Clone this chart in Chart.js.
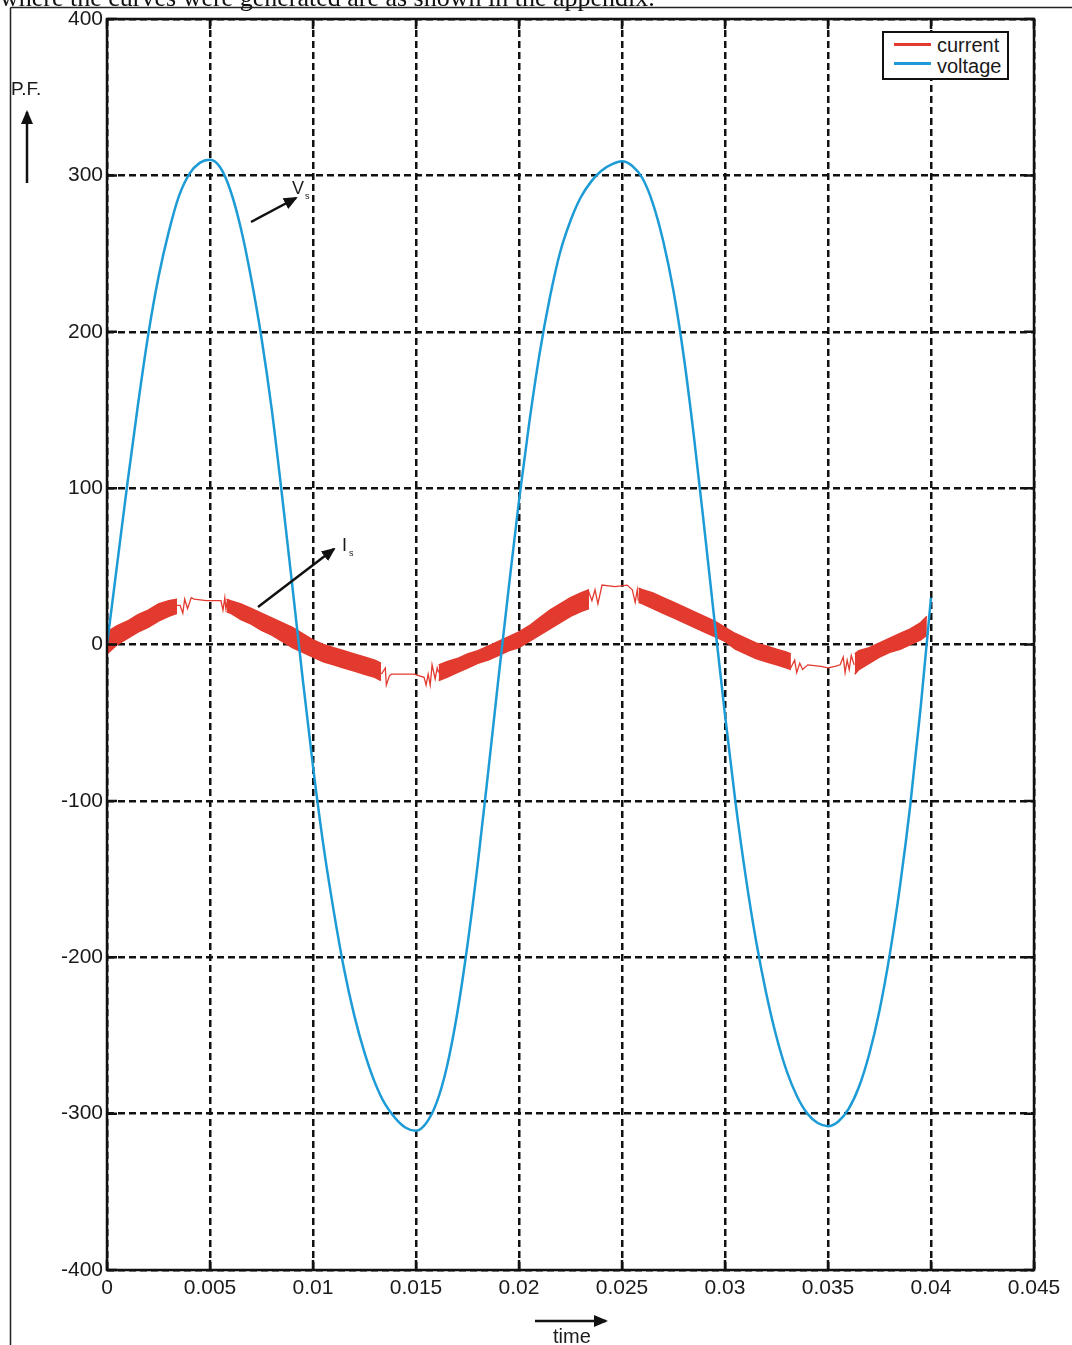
<!DOCTYPE html>
<html>
<head>
<meta charset="utf-8">
<script src="https://cdn.jsdelivr.net/npm/chart.js@4.4.1/dist/chart.umd.min.js"></script>
<style>
  html, body { margin: 0; padding: 0; background: #fff; }
  #wrap { position: relative; width: 1072px; height: 1345px; overflow: hidden;
          font-family: "Liberation Sans", Arial, sans-serif; color: #1a1a1a; }
  #chart { position: absolute; left: 0; top: 0; }
  .txt { position: absolute; white-space: nowrap; line-height: 1; }
  #topline { position: absolute; left: 0; top: -17px; font: 26px "Liberation Serif", "Times New Roman", serif; color: #111; white-space: nowrap; }
  #legend { position: absolute; left: 882px; top: 31px; width: 123px; height: 45px; border: 2px solid #111; background: #fff; }
  .swatch { position: absolute; left: 10px; width: 37px; height: 3px; }
  .ltext { position: absolute; left: 53px; font-size: 20px; line-height: 1; }
  svg { position: absolute; left: 0; top: 0; pointer-events: none; }
</style>
</head>
<body>
<div id="wrap">
  <canvas id="chart" width="1072" height="1345"></canvas>
  <div id="topline">where the curves were generated are as shown in the appendix.</div>
  <div id="legend">
    <div class="swatch" style="top:10px;background:#e23a2e"></div>
    <div class="ltext" style="top:2px">current</div>
    <div class="swatch" style="top:29px;background:#1c9bd6"></div>
    <div class="ltext" style="top:23px">voltage</div>
  </div>
  <div class="txt" style="left:11px;top:79px;font-size:19px">P.F.</div>
  <div class="txt" style="left:553px;top:1326px;font-size:20px">time</div>
  <div class="txt" style="left:292px;top:179px;font-size:18px">V<span style="font-size:9px;position:relative;top:5px;left:1px">s</span></div>
  <div class="txt" style="left:342px;top:536px;font-size:18px">I<span style="font-size:9px;position:relative;top:5px;left:2px">s</span></div>
  <svg width="1072" height="1345">
    <defs>
      <marker id="ah2" markerWidth="14" markerHeight="14" refX="12" refY="7" orient="auto" markerUnits="userSpaceOnUse">
        <path d="M0,1 L14,7 L0,13 z" fill="#111"/>
      </marker>
    </defs>
    <line x1="10.5" y1="7.5" x2="1072" y2="7.5" stroke="#222" stroke-width="1.5"/>
    <line x1="10.5" y1="7.5" x2="10.5" y2="1345" stroke="#222" stroke-width="1.5"/>
    <line x1="27" y1="183" x2="27" y2="112" stroke="#111" stroke-width="2.5" marker-end="url(#ah2)"/>
    <line x1="535" y1="1321" x2="606" y2="1321" stroke="#111" stroke-width="2.5" marker-end="url(#ah2)"/>
    <line x1="251" y1="222" x2="296" y2="198" stroke="#111" stroke-width="2.5" marker-end="url(#ah2)"/>
    <line x1="258" y1="607" x2="334" y2="549" stroke="#111" stroke-width="2.5" marker-end="url(#ah2)"/>
  </svg>
</div>
<script>
  const xTickValues = [0, 0.005, 0.01, 0.015, 0.02, 0.025, 0.03, 0.035, 0.04, 0.045];
  const xTickLabels = ["0", "0.005", "0.01", "0.015", "0.02", "0.025", "0.03", "0.035", "0.04", "0.045"];
  const yTickValues = [-400, -300, -200, -100, 0, 100, 200, 300, 400];

  // voltage (Vs)
  const voltT = [0, 0.0005, 0.001, 0.0015, 0.002, 0.0025, 0.003, 0.0035, 0.004, 0.0045,
    0.005, 0.0055, 0.006, 0.0065, 0.007, 0.0075, 0.008, 0.0085, 0.009, 0.0095,
    0.01, 0.0105, 0.011, 0.0115, 0.012, 0.0125, 0.013, 0.0135, 0.014, 0.0145,
    0.015, 0.0155, 0.016, 0.0165, 0.017, 0.0175, 0.018, 0.0185, 0.019, 0.0195,
    0.02, 0.0205, 0.021, 0.0215, 0.022, 0.0225, 0.023, 0.0235, 0.024, 0.0245,
    0.025, 0.0255, 0.026, 0.0265, 0.027, 0.0275, 0.028, 0.0285, 0.029, 0.0295,
    0.03, 0.0305, 0.031, 0.0315, 0.032, 0.0325, 0.033, 0.0335, 0.034, 0.0345,
    0.035, 0.0355, 0.036, 0.0365, 0.037, 0.0375, 0.038, 0.0385, 0.039, 0.0395, 0.04];
  const voltV = [0, 52, 104, 153, 198, 235, 264, 287, 301, 308,
    310, 305, 290, 266, 234, 196, 150, 95, 37, -22,
    -78, -128, -170, -207, -237, -261, -280, -294, -303, -309,
    -311, -306, -293, -270, -236, -192, -140, -82, -22, 36,
    92, 142, 186, 222, 251, 271, 286, 296, 303, 307,
    309, 306, 298, 282, 258, 226, 184, 132, 74, 14,
    -45, -100, -148, -189, -223, -251, -273, -289, -300, -306,
    -308, -305, -297, -283, -262, -234, -198, -154, -102, -40, 30];

  // current (Is): noisy band, upper / lower edge, null separates segments
  const bandT = [0, 0.0005, 0.001, 0.0015, 0.002, 0.0025, 0.003, 0.0034, null,
    0.0058, 0.006, 0.0065, 0.007, 0.0075, 0.008, 0.0085, 0.009, 0.0095, 0.01, 0.0105, 0.011, 0.0115, 0.012, 0.0125, 0.013, 0.0133, null,
    0.0161, 0.0165, 0.017, 0.0175, 0.018, 0.0185, 0.019, 0.0195, 0.02, 0.0205, 0.021, 0.0215, 0.022, 0.0225, 0.023, 0.0234, null,
    0.0258, 0.026, 0.0265, 0.027, 0.0275, 0.028, 0.0285, 0.029, 0.0295, 0.03, 0.0305, 0.031, 0.0315, 0.032, 0.0325, 0.033, 0.0332, null,
    0.0363, 0.0365, 0.037, 0.0375, 0.038, 0.0385, 0.039, 0.0395, 0.0398];
  const bandHi = [8, 12, 15, 19, 22, 26, 28, 29, null,
    29, 28, 26, 23, 20, 17, 14, 11, 7, 3, 0, -2, -4, -6, -8, -10, -12, null,
    -13, -11, -9, -6, -4, -1, 2, 5, 8, 12, 17, 22, 26, 30, 33, 35, null,
    36, 35, 33, 30, 27, 24, 21, 18, 15, 11, 7, 4, 1, -1, -3, -5, -6, null,
    -6, -4, -2, 1, 4, 7, 10, 14, 18];
  const bandLo = [-6, 0, 4, 8, 11, 15, 18, 20, null,
    21, 20, 16, 13, 9, 6, 2, -2, -5, -8, -11, -13, -15, -17, -19, -21, -23, null,
    -23, -21, -18, -15, -12, -10, -7, -4, -2, 2, 6, 10, 14, 18, 21, 23, null,
    27, 26, 23, 20, 17, 14, 11, 8, 5, 2, -3, -6, -9, -11, -13, -15, -16, null,
    -19, -16, -12, -8, -5, -3, 0, 3, 6];

  // current: thin switching traces near the peaks
  const gapT = [0.0034, 0.00355, 0.00368, 0.00377, 0.00391, 0.00409, 0.00423, 0.00482, 0.00514, 0.00553, 0.00563, 0.00572, 0.00577, 0.00587, null,
    0.01332, 0.01351, 0.01356, 0.01371, 0.01381, 0.01441, 0.0149, 0.01539, 0.01549, 0.01559, 0.01569, 0.01578, 0.01593, 0.01603, 0.0161, null,
    0.02335, 0.02354, 0.02369, 0.02383, 0.02403, 0.02466, 0.02525, 0.0255, 0.02564, 0.02574, 0.02579, null,
    0.03319, 0.03338, 0.03348, 0.03363, 0.03377, 0.03402, 0.03466, 0.035, 0.03534, 0.03559, 0.03574, 0.03583, 0.03593, 0.03603, 0.03613, 0.03627];
  const gapV = [25, 25, 20, 29, 23, 30, 29, 28, 28, 28, 22, 30, 23, 29, null,
    -19, -15, -26, -20, -19, -19, -19, -21, -26, -19, -26, -13, -22, -15, -18, null,
    35, 28, 35, 26, 38, 37, 38, 35, 27, 35, 28, null,
    -15, -10, -18, -12, -16, -13, -14, -15, -14, -13, -8, -18, -10, -16, -7, -13];

  const RED = "#e23a2e";
  const BLUE = "#1c9bd6";
  const FONT = "'Liberation Sans', Arial, sans-serif";

  function segments(ts, ...cols) {
    const out = [];
    let cur = cols.map(() => []);
    ts.forEach((t, i) => {
      if (t === null) {
        out.push(cur);
        cur = cols.map(() => []);
        return;
      }
      cols.forEach((c, k) => cur[k].push({ x: t, y: c[i] }));
    });
    out.push(cur);
    return out;
  }

  const datasets = [
    {
      label: "voltage",
      data: voltT.map((t, i) => ({ x: t, y: voltV[i] })),
      borderColor: BLUE,
      borderWidth: 2.5,
      pointRadius: 0,
      cubicInterpolationMode: "monotone",
      fill: false,
      order: 0,
    },
  ];

  segments(bandT, bandHi, bandLo).forEach(([hi, lo]) => {
    datasets.push({
      label: "current",
      data: hi,
      borderColor: RED,
      backgroundColor: RED,
      borderWidth: 1.5,
      pointRadius: 0,
      fill: "+1",
      order: 1,
    });
    datasets.push({
      label: "current",
      data: lo,
      borderColor: RED,
      borderWidth: 1.5,
      pointRadius: 0,
      fill: false,
      order: 1,
    });
  });

  segments(gapT, gapV).forEach(([pts]) => {
    datasets.push({
      label: "current",
      data: pts,
      borderColor: RED,
      borderWidth: 1.3,
      pointRadius: 0,
      fill: false,
      order: 1,
    });
  });

  const framePlugin = {
    id: "frame",
    afterDatasetsDraw(chart) {
      const { ctx, chartArea: a, scales } = chart;
      ctx.save();
      ctx.strokeStyle = "#111";
      ctx.lineWidth = 2.5;
      ctx.setLineDash([]);
      ctx.strokeRect(a.left, a.top, a.right - a.left, a.bottom - a.top);
      const len = 10;
      ctx.beginPath();
      xTickValues.forEach((v) => {
        const x = scales.x.getPixelForValue(v);
        ctx.moveTo(x, a.bottom); ctx.lineTo(x, a.bottom - len);
        ctx.moveTo(x, a.top); ctx.lineTo(x, a.top + len);
      });
      yTickValues.forEach((v) => {
        const y = scales.y.getPixelForValue(v);
        ctx.moveTo(a.left, y); ctx.lineTo(a.left + len, y);
        ctx.moveTo(a.right, y); ctx.lineTo(a.right - len, y);
      });
      ctx.stroke();
      ctx.restore();
    },
  };

  new Chart(document.getElementById("chart").getContext("2d"), {
    type: "line",
    data: { datasets },
    options: {
      responsive: false,
      animation: false,
      layout: { padding: { top: 19, right: 38, bottom: 0, left: 0 } },
      plugins: { legend: { display: false }, tooltip: { enabled: false } },
      scales: {
        x: {
          type: "linear",
          min: 0,
          max: 0.045,
          afterBuildTicks: (s) => { s.ticks = xTickValues.map((v) => ({ value: v })); },
          afterFit: (s) => { s.height = 75; },
          ticks: {
            autoSkip: false,
            maxRotation: 0,
            padding: 6,
            color: "#1a1a1a",
            font: { family: FONT, size: 21 },
            callback: (v, i) => xTickLabels[i],
          },
          grid: { color: "#111", lineWidth: 2.5, drawTicks: false },
          border: { display: false, dash: [7, 4] },
        },
        y: {
          type: "linear",
          min: -400,
          max: 400,
          afterBuildTicks: (s) => { s.ticks = yTickValues.map((v) => ({ value: v })); },
          afterFit: (s) => { s.width = 107; },
          ticks: {
            padding: 4,
            color: "#1a1a1a",
            font: { family: FONT, size: 21 },
            callback: (v) => String(v),
          },
          grid: { color: "#111", lineWidth: 2.5, drawTicks: false },
          border: { display: false, dash: [7, 4] },
        },
      },
    },
    plugins: [framePlugin],
  });
</script>
</body>
</html>
